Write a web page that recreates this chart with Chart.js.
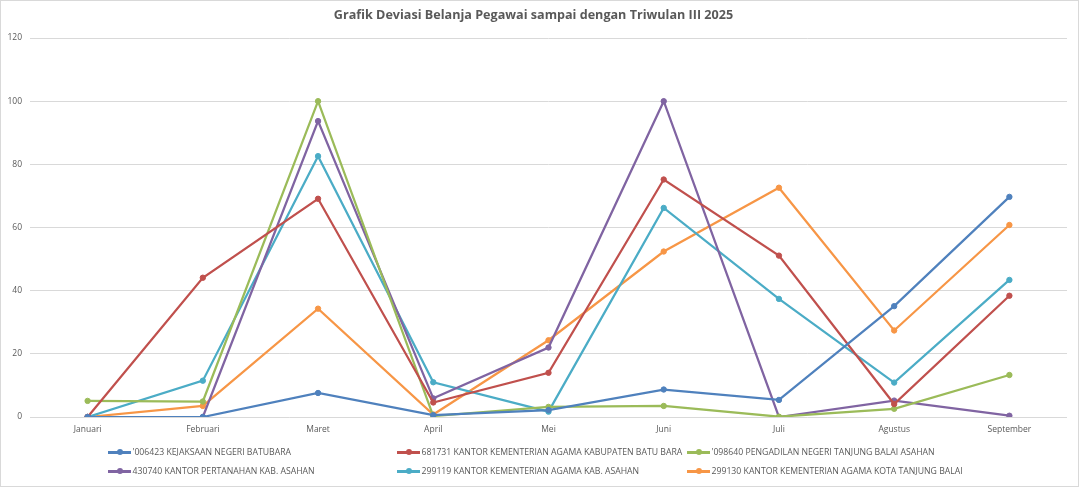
<!DOCTYPE html>
<html>
<head>
<meta charset="utf-8">
<script src="https://cdn.jsdelivr.net/npm/chart.js@4.4.1/dist/chart.umd.min.js"></script>
<style>
  html, body { margin: 0; padding: 0; background: #ffffff; }
  #wrap { position: relative; width: 1080px; height: 487px; overflow: hidden; }
  #frame { position: absolute; left: 0; top: 0; width: 1077px; height: 485px; border: 1px solid #d9d9d9; pointer-events: none; }
  canvas { position: absolute; left: 0; top: 0; }
  .lg { position: absolute; height: 14px; display: flex; align-items: center; font-family: "Open Sans", sans-serif; font-size: 8.7px; color: #595959; white-space: nowrap; }
  .mk { position: relative; width: 23px; height: 14px; margin-right: 1.5px; }
  .mk .ln { position: absolute; left: 0; top: 6px; width: 23px; height: 2.5px; }
  .mk .dt { position: absolute; left: 8.5px; top: 4.2px; width: 6px; height: 6px; border-radius: 50%; }
</style>
</head>
<body>
<div id="wrap">
  <canvas id="c" width="1080" height="487"></canvas>
  <div id="frame"></div>
</div>
<script>
const chartTitle = "Grafik Deviasi Belanja Pegawai sampai dengan Triwulan III 2025";
const months = ["Januari", "Februari", "Maret", "April", "Mei", "Juni", "Juli", "Agustus", "September"];
const yTicks = [0, 20, 40, 60, 80, 100, 120];

const label006423 = "'006423 KEJAKSAAN NEGERI BATUBARA";
const label681731 = "681731 KANTOR KEMENTERIAN AGAMA KABUPATEN BATU BARA";
const label098640 = "'098640 PENGADILAN NEGERI TANJUNG BALAI ASAHAN";
const label430740 = "430740 KANTOR PERTANAHAN KAB. ASAHAN";
const label299119 = "299119 KANTOR KEMENTERIAN AGAMA KAB. ASAHAN";
const label299130 = "299130 KANTOR KEMENTERIAN AGAMA KOTA TANJUNG BALAI";

const values006423 = [0, 0, 7.6, 0.6, 2.2, 8.7, 5.4, 35.1, 69.7];
const values681731 = [0, 44.1, 69.1, 4.6, 14.0, 75.2, 51.1, 4.1, 38.4];
const values098640 = [5.1, 4.9, 100, 0.3, 3.2, 3.5, 0.1, 2.6, 13.3];
const values430740 = [0, 0, 93.7, 5.9, 22.0, 100, 0, 5.2, 0.4];
const values299119 = [0, 11.5, 82.6, 11.0, 1.7, 66.2, 37.4, 10.9, 43.4];
const values299130 = [0, 3.5, 34.3, 0.8, 24.3, 52.4, 72.6, 27.4, 60.8];

const seriesColors = ["#4F81BD", "#C0504D", "#9BBB59", "#8064A2", "#4BACC6", "#F79646"];

function ds(label, data, color) {
  return {
    label: label, data: data,
    borderColor: color, backgroundColor: color,
    pointBackgroundColor: color, pointBorderColor: color,
    borderWidth: 2.25, pointRadius: 2.7, pointBorderWidth: 1, pointHoverRadius: 2.7,
    tension: 0, fill: false
  };
}

const datasets = [
  ds(label006423, values006423, seriesColors[0]),
  ds(label681731, values681731, seriesColors[1]),
  ds(label098640, values098640, seriesColors[2]),
  ds(label430740, values430740, seriesColors[3]),
  ds(label299119, values299119, seriesColors[4]),
  ds(label299130, values299130, seriesColors[5])
];

const chart = new Chart(document.getElementById('c'), {
  type: 'line',
  data: { labels: months, datasets: datasets },
  options: {
    responsive: false,
    animation: false,
    devicePixelRatio: 1,
    layout: { padding: { left: 0, right: 13, top: 0, bottom: 45 } },
    plugins: {
      legend: { display: false },
      tooltip: { enabled: false },
      title: {
        display: true, text: chartTitle, color: '#595959',
        font: { family: 'Open Sans', size: 12.6, weight: 'bold', lineHeight: 1.2 },
        padding: { top: 8, bottom: 14.9 }
      }
    },
    scales: {
      x: {
        offset: true,
        grid: { display: false, drawTicks: false },
        border: { display: false },
        ticks: { color: '#595959', font: { family: 'Open Sans', size: 8.5 }, padding: 7, maxRotation: 0, autoSkip: false },
        afterFit: function (s) { s.height = 25; }
      },
      y: {
        min: 0, max: 120,
        afterBuildTicks: function (s) { s.ticks = yTicks.map(v => ({ value: v })); },
        grid: { color: '#d9d9d9', lineWidth: 1, drawTicks: false },
        border: { display: false },
        ticks: { color: '#595959', font: { family: 'Open Sans', size: 8.5 }, padding: 8 },
        afterFit: function (s) { s.width = 30; }
      }
    }
  }
});

// legend (3 columns, 2 rows) built from the chart datasets
const colX = [108, 397, 687];
const rowY = [445, 464];
const wrap = document.getElementById('wrap');
chart.data.datasets.forEach(function (d, i) {
  const el = document.createElement('div');
  el.className = 'lg';
  el.style.left = colX[i % 3] + 'px';
  el.style.top = rowY[Math.floor(i / 3)] + 'px';
  el.innerHTML = '<div class="mk"><div class="ln" style="background:' + d.borderColor + '"></div><div class="dt" style="background:' + d.borderColor + '"></div></div>';
  const t = document.createElement('span');
  t.textContent = d.label;
  el.appendChild(t);
  wrap.appendChild(el);
});
</script>
</body>
</html>
